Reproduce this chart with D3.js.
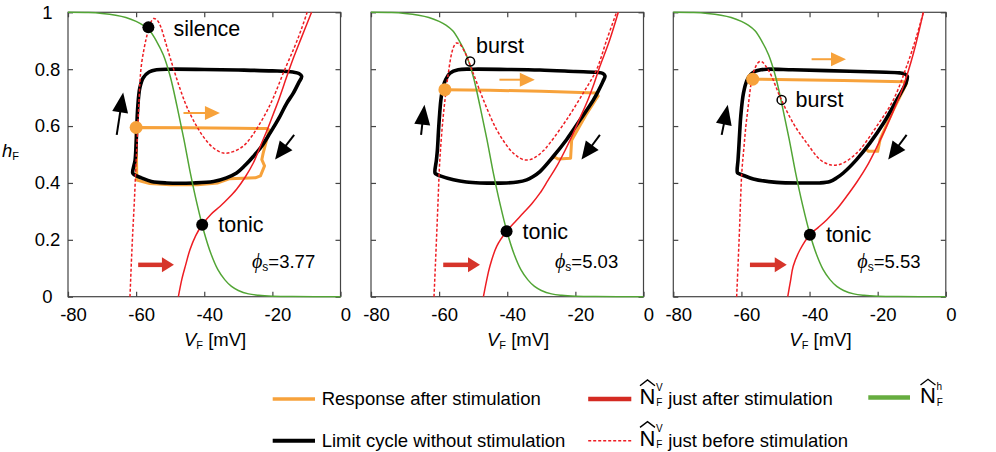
<!DOCTYPE html>
<html><head><meta charset="utf-8">
<script src="https://cdn.jsdelivr.net/npm/d3@7"></script>
<style>
body{margin:0;background:#fff}
svg text{font-family:"Liberation Sans",Arial,sans-serif;fill:#000}
</style>
</head><body>
<svg id="c" width="996" height="452"></svg>
<script>
// ---------------- data ----------------
const xTicks = [-80, -60, -40, -20, 0];
const yTicks = [0, 0.2, 0.4, 0.6, 0.8, 1];
const yTickLabels = ["0", "0.2", "0.4", "0.6", "0.8", "1"];
const phiValues = ["3.77", "5.03", "5.53"];

// N_F^h nullcline (same in all panels)
const greenNullcline = [[-80,1.0],[-74,0.999],[-70,0.996],[-66,0.99],[-63,0.982],[-60,0.968],[-58,0.955],[-56,0.935],[-54,0.898],[-52,0.85],[-50,0.775],[-48,0.67],[-46,0.555],[-44,0.43],[-42,0.32],[-40,0.225],[-38,0.15],[-36,0.095],[-34,0.06],[-32,0.036],[-30,0.022],[-27,0.01],[-24,0.005],[-20,0.002],[-14,0.0005],[0,0]];

// N_F^V just after stimulation
const redAfter1 = [[-47.6,0],[-46.6,0.06],[-45.5,0.11],[-44.2,0.165],[-42.5,0.215],[-40.6,0.253],[-38,0.29],[-35.4,0.317],[-33,0.345],[-30.5,0.378],[-28,0.42],[-25.6,0.47],[-23.5,0.53],[-21.5,0.587],[-19.8,0.64],[-18.2,0.69],[-15.6,0.78],[-13.8,0.84],[-11.5,0.91],[-8.5,1.0]];
const redAfter2 = [[-47.0,0],[-46.1,0.055],[-45.1,0.107],[-43.1,0.177],[-40.2,0.23],[-37.8,0.262],[-35.3,0.294],[-32.8,0.327],[-30.4,0.364],[-28,0.41],[-25.5,0.458],[-23,0.515],[-20.6,0.575],[-18.6,0.63],[-16.7,0.681],[-14.5,0.75],[-12.8,0.81],[-10,0.9],[-7.4,1.0]];
const redAfter3 = [[-46.4,0],[-45.6,0.055],[-44.8,0.107],[-42.8,0.165],[-39.9,0.218],[-37.5,0.243],[-35.0,0.27],[-32,0.308],[-29.1,0.353],[-26,0.405],[-23.2,0.458],[-20.3,0.525],[-17.4,0.599],[-14.8,0.67],[-12.5,0.739],[-9.5,0.856],[-6.6,1.0]];

// N_F^V just before stimulation
const redBefore1 = [[-61.8,0],[-61.4,0.12],[-61.0,0.224],[-60.5,0.34],[-60.1,0.45],[-59.7,0.55],[-59.3,0.65],[-58.9,0.751],[-58.5,0.81],[-57.7,0.87],[-56.9,0.915],[-56.0,0.955],[-54.9,0.978],[-53.8,0.972],[-52.8,0.95],[-51.5,0.9],[-50,0.84],[-47.5,0.745],[-45.2,0.67],[-42.5,0.605],[-40.3,0.563],[-37.5,0.525],[-34.4,0.505],[-31.5,0.51],[-28.5,0.53],[-26,0.565],[-23.6,0.61],[-21.5,0.655],[-19.7,0.70],[-16.5,0.795],[-13.6,0.875],[-11.5,0.94],[-9.8,1.0]];
const redBefore2 = [[-61.5,0],[-61.1,0.11],[-60.7,0.224],[-60.3,0.34],[-59.9,0.458],[-59.4,0.55],[-58.8,0.634],[-58.1,0.71],[-57.3,0.786],[-56.3,0.857],[-55.6,0.882],[-54.9,0.892],[-54.1,0.889],[-53.4,0.88],[-51.9,0.845],[-50,0.786],[-47.0,0.692],[-43.1,0.587],[-39.2,0.517],[-37.2,0.495],[-35.3,0.482],[-33.3,0.482],[-31.4,0.493],[-29.5,0.512],[-27.5,0.54],[-22.6,0.622],[-17.7,0.716],[-13.8,0.798],[-10.8,0.903],[-7.9,1.0]];
const redBefore3 = [[-61.4,0],[-61.0,0.11],[-60.6,0.224],[-59.9,0.435],[-59.3,0.52],[-58.7,0.599],[-58.0,0.67],[-57.3,0.739],[-56.7,0.78],[-56.0,0.804],[-55.2,0.822],[-54.5,0.827],[-53.8,0.825],[-53.1,0.815],[-52.1,0.797],[-51.1,0.774],[-48.7,0.704],[-44.8,0.61],[-40.8,0.54],[-36.9,0.482],[-34.0,0.464],[-32,0.463],[-30.1,0.47],[-27.6,0.49],[-25.2,0.517],[-20.3,0.599],[-15.4,0.692],[-11.5,0.81],[-8.6,0.915],[-6.6,1.0]];

// limit cycle without stimulation (closed)
const limitCycle1 = [[-61.0,0.435],[-60.3,0.48],[-60.0,0.54],[-59.8,0.6],[-59.5,0.67],[-58.9,0.735],[-57.9,0.77],[-56.2,0.79],[-54,0.798],[-50,0.80],[-40,0.799],[-30,0.797],[-20,0.794],[-14,0.79],[-12.2,0.785],[-11.4,0.775],[-12.3,0.752],[-13.9,0.715],[-15.8,0.68],[-18.2,0.625],[-20.7,0.575],[-23.2,0.528],[-25.6,0.493],[-28,0.462],[-30.5,0.435],[-33.5,0.418],[-37.3,0.405],[-43.2,0.40],[-51,0.40],[-55.5,0.405],[-58.5,0.418],[-60.4,0.428]];
const limitCycle2 = [[-61.2,0.435],[-60.8,0.48],[-60.5,0.517],[-60.2,0.58],[-59.9,0.634],[-59.5,0.69],[-58.9,0.735],[-58.0,0.765],[-56.8,0.786],[-54.4,0.798],[-50,0.80],[-40,0.799],[-30.4,0.797],[-20,0.792],[-13.8,0.789],[-11.9,0.785],[-11.3,0.776],[-11.9,0.757],[-13.2,0.725],[-14.7,0.692],[-18.6,0.622],[-22.6,0.552],[-26.5,0.493],[-30.4,0.44],[-32.5,0.422],[-34.3,0.411],[-37,0.403],[-40.2,0.40],[-48.0,0.40],[-52,0.403],[-55.8,0.411],[-59.7,0.425],[-60.7,0.43]];
const limitCycle3 = [[-61.2,0.437],[-61.0,0.48],[-60.8,0.517],[-60.5,0.58],[-60.2,0.634],[-59.4,0.716],[-58.3,0.763],[-57.2,0.782],[-56.0,0.792],[-54.3,0.798],[-52.6,0.80],[-45,0.798],[-35.0,0.795],[-20,0.79],[-13.5,0.787],[-12.0,0.783],[-11.3,0.775],[-11.7,0.751],[-12.8,0.725],[-14.4,0.692],[-18.3,0.61],[-22.3,0.54],[-26.2,0.482],[-30.1,0.435],[-32,0.418],[-34.0,0.405],[-37,0.40],[-40.8,0.40],[-49.7,0.402],[-56.5,0.414],[-59.9,0.429],[-60.8,0.433]];

// response after stimulation
const response1 = [[-60.0,0.595],[-45,0.594],[-30,0.592],[-21.7,0.591],[-20.9,0.586],[-21.6,0.555],[-22.7,0.505],[-23.1,0.482],[-22.3,0.46],[-23.5,0.425],[-25,0.418],[-32.5,0.415],[-36,0.40],[-42,0.394],[-50,0.394],[-56,0.398],[-59.8,0.41],[-59.9,0.5],[-60.0,0.595]];
const response2 = [[-58.3,0.728],[-45,0.726],[-30,0.722],[-13.8,0.716],[-13.3,0.706],[-14.2,0.69],[-17,0.637],[-21.1,0.55],[-21.4,0.487],[-25.0,0.484],[-26.5,0.493]];
const response3 = [[-56.7,0.765],[-45,0.763],[-30,0.76],[-12.4,0.756],[-11.5,0.75],[-15.4,0.657],[-19.3,0.552],[-20.0,0.511],[-22.7,0.511],[-23.5,0.52]];

// markers
const startPoints = [[-60.0,0.595],[-58.3,0.728],[-56.7,0.765]];
const tonicPoints = [[-40.6,0.253],[-40.2,0.23],[-39.9,0.218]];
const silencePoint = [-56.4,0.947];
const burstPoints = [null,[-50.9,0.827],[-48.2,0.692]];

// arrows: [tail, tip]
const orangeArrows = [[[-46.1,0.646],[-35.4,0.646]],[[-42.3,0.763],[-31.9,0.763]],[[-39.4,0.835],[-29.3,0.835]]];
const blackUpArrows = [[[-65.7,0.569],[-63.8,0.718]],[[-65.3,0.569],[-64.3,0.675]],[[-65.8,0.569],[-64.0,0.675]]];
const blackDownArrows = [[[-13.6,0.569],[-19.2,0.482]],[[-12.8,0.569],[-18.2,0.482]],[[-11.5,0.569],[-16.9,0.482]]];
const redArrows = [[[-59.4,0.112],[-48.9,0.112]],[[-58.8,0.112],[-48.0,0.112]],[[-57.5,0.112],[-46.7,0.112]]];

const legendLabels = ["Response after stimulation", "Limit cycle without stimulation", "just after stimulation", "just before stimulation"];

// ---------------- layout ----------------
const C = {green:"#52a535", red:"#ee1d23", orange:"#f7a23b", darkRed:"#d6342a", frame:"#444"};
const svg = d3.select("#c");
const panelLeft = [68, 371, 673.3], pw = 272.5, pTop = 12.3, pBot = 296.7;
const redAfter = [redAfter1, redAfter2, redAfter3];
const redBefore = [redBefore1, redBefore2, redBefore3];
const cycles = [limitCycle1, limitCycle2, limitCycle3];
const responses = [response1, response2, response3];

function arrow(g, x, y, a, color, shaftW, L, Wd) {
  const p0 = [x(a[0][0]), y(a[0][1])], p1 = [x(a[1][0]), y(a[1][1])];
  const dx = p1[0]-p0[0], dy = p1[1]-p0[1], len = Math.hypot(dx,dy);
  const ux = dx/len, uy = dy/len, nx = -uy, ny = ux;
  const bx = p1[0]-ux*L, by = p1[1]-uy*L;
  g.append("line").attr("x1",p0[0]).attr("y1",p0[1]).attr("x2",bx+ux).attr("y2",by+uy)
    .attr("stroke",color).attr("stroke-width",shaftW);
  g.append("path").attr("d",`M${p1[0]},${p1[1]}L${bx+nx*Wd},${by+ny*Wd}L${bx-nx*Wd},${by-ny*Wd}Z`).attr("fill",color);
}

for (let i = 0; i < 3; i++) {
  const L = panelLeft[i];
  const x = d3.scaleLinear().domain([-80,0]).range([L, L+pw]);
  const y = d3.scaleLinear().domain([0,1]).range([pBot, pTop]);
  const g = svg.append("g");

  g.append("rect").attr("x",L).attr("y",pTop).attr("width",pw).attr("height",pBot-pTop)
    .attr("fill","none").attr("stroke",C.frame).attr("stroke-width",1.2);

  const styleAx = s => { s.select(".domain").remove(); s.selectAll(".tick line").attr("stroke",C.frame).attr("stroke-width",1.2);
    s.selectAll("text").attr("font-size",18.5).attr("fill","#000").attr("font-family","Liberation Sans, Arial, sans-serif"); };
  g.append("g").attr("transform",`translate(0,${pBot})`)
    .call(d3.axisBottom(x).tickValues(xTicks).tickSize(-5).tickPadding(11).tickFormat(d=>String(d))).call(styleAx)
    .selectAll("text").attr("dx",5);
  g.append("g").attr("transform",`translate(0,${pTop})`)
    .call(d3.axisTop(x).tickValues(xTicks).tickSize(-5).tickFormat("")).call(styleAx);
  const ly = g.append("g").attr("transform",`translate(${L},0)`)
    .call(d3.axisLeft(y).tickValues(yTicks).tickSize(-5).tickPadding(8).tickFormat((d,j)=> i===0 ? yTickLabels[j] : "")).call(styleAx);
  ly.selectAll("text").attr("text-anchor","middle").attr("x",-(L-47.5));
  g.append("g").attr("transform",`translate(${L+pw},0)`)
    .call(d3.axisRight(y).tickValues(yTicks).tickSize(-5).tickFormat("")).call(styleAx);

  const clipId = "clip"+i;
  svg.append("clipPath").attr("id",clipId).append("rect")
    .attr("x",L-1).attr("y",pTop-1.5).attr("width",pw+2).attr("height",pBot-pTop+2.5);
  const pg = g.append("g").attr("clip-path",`url(#${clipId})`);

  const lineC = d3.line().x(d=>x(d[0])).y(d=>y(d[1])).curve(d3.curveCatmullRom.alpha(0.5));
  const lineL = d3.line().x(d=>x(d[0])).y(d=>y(d[1]));
  const lineClosed = d3.line().x(d=>x(d[0])).y(d=>y(d[1])).curve(d3.curveCatmullRomClosed.alpha(0.5));

  pg.append("path").attr("d",lineL(responses[i])).attr("fill","none").attr("stroke",C.orange)
    .attr("stroke-width",3).attr("stroke-linejoin","round");
  pg.append("path").attr("d",lineClosed(cycles[i])).attr("fill","none").attr("stroke","#000").attr("stroke-width",3.6);
  pg.append("path").attr("d",lineC(greenNullcline)).attr("fill","none").attr("stroke",C.green).attr("stroke-width",1.5);
  pg.append("path").attr("d",lineC(redAfter[i])).attr("fill","none").attr("stroke",C.red).attr("stroke-width",1.5);
  pg.append("path").attr("d",lineC(redBefore[i])).attr("fill","none").attr("stroke",C.red).attr("stroke-width",1.5)
    .attr("stroke-dasharray","3,2");

  // arrows
  arrow(g, x, y, orangeArrows[i], C.orange, 2, 15, 7);
  arrow(g, x, y, blackUpArrows[i], "#000", 2, 20, 8);
  arrow(g, x, y, blackDownArrows[i], "#000", 2, 18, 8);
  arrow(g, x, y, redArrows[i], C.darkRed, 4.5, 12, 7.5);

  // points
  g.append("circle").attr("cx",x(startPoints[i][0])).attr("cy",y(startPoints[i][1])).attr("r",6.5).attr("fill",C.orange);
  g.append("circle").attr("cx",x(tonicPoints[i][0])).attr("cy",y(tonicPoints[i][1])).attr("r",6).attr("fill","#000");
  g.append("text").attr("x",x(tonicPoints[i][0])+16).attr("y",y(tonicPoints[i][1])+7.5).attr("font-size",21.5).text("tonic");
  if (i === 0) {
    g.append("circle").attr("cx",x(silencePoint[0])).attr("cy",y(silencePoint[1])).attr("r",6).attr("fill","#000");
    g.append("text").attr("x",x(silencePoint[0])+25).attr("y",y(silencePoint[1])+9).attr("font-size",21.5).text("silence");
  } else {
    const b = burstPoints[i];
    g.append("circle").attr("cx",x(b[0])).attr("cy",y(b[1])).attr("r",4.5).attr("fill","none").attr("stroke","#000").attr("stroke-width",1.5);
    const t = g.append("text").attr("font-size",21.5).text("burst");
    if (i === 1) t.attr("x",x(b[0])+6).attr("y",y(b[1])-9);
    else t.attr("x",x(b[0])+14).attr("y",y(b[1])+7);
  }
  // phi label
  const pt = g.append("text").attr("x",L+184).attr("y",268).attr("font-size",18.5);
  pt.append("tspan").attr("font-style","italic").attr("font-family","Liberation Serif, serif").attr("font-size",20).text("ϕ");
  pt.append("tspan").attr("font-size",12).attr("dy",3).text("s");
  pt.append("tspan").attr("dy",-3).text("="+phiValues[i]);

  // x title
  const xt = g.append("text").attr("x",L+116).attr("y",345.5).attr("font-size",18.5);
  xt.append("tspan").attr("font-style","italic").text("V");
  xt.append("tspan").attr("font-size",11).attr("dy",3).text("F");
  xt.append("tspan").attr("dy",-3).text(" [mV]");
}

// y title
const yt = svg.append("text").attr("x",2).attr("y",157).attr("font-size",18.5);
yt.append("tspan").attr("font-style","italic").text("h");
yt.append("tspan").attr("font-size",11).attr("dy",3).text("F");

// ---------------- legend ----------------
const lg = svg.append("g");
const rowY = [399, 440.7];
const rowBase = [405, 446.7];
lg.append("line").attr("x1",272.7).attr("x2",315).attr("y1",rowY[0]).attr("y2",rowY[0]).attr("stroke",C.orange).attr("stroke-width",3.3);
lg.append("line").attr("x1",272.7).attr("x2",315).attr("y1",rowY[1]).attr("y2",rowY[1]).attr("stroke","#000").attr("stroke-width",4);
lg.append("text").attr("x",321.7).attr("y",rowBase[0]).attr("font-size",18.5).text(legendLabels[0]);
lg.append("text").attr("x",321.7).attr("y",rowBase[1]).attr("font-size",18.5).text(legendLabels[1]);

lg.append("line").attr("x1",588.2).attr("x2",631.3).attr("y1",rowY[0]).attr("y2",rowY[0]).attr("stroke","#d42a22").attr("stroke-width",4.5);
lg.append("line").attr("x1",588.2).attr("x2",631.3).attr("y1",rowY[1]).attr("y2",rowY[1]).attr("stroke",C.red).attr("stroke-width",1.5).attr("stroke-dasharray","3,2");
lg.append("line").attr("x1",868.3).attr("x2",910).attr("y1",397.5).attr("y2",397.5).attr("stroke","#66ad3f").attr("stroke-width",4.5);

function nHat(x0, base, sup, sub) {
  lg.append("text").attr("x",x0).attr("y",base).attr("font-size",22).text("N");
  lg.append("path").attr("d",`M${x0+0.5},${base-18.3}L${x0+8},${base-24}L${x0+15.5},${base-18.3}`)
    .attr("fill","none").attr("stroke","#000").attr("stroke-width",1.4);
  lg.append("text").attr("x",x0+16.5).attr("y",base-13.3).attr("font-size",10).text(sup);
  lg.append("text").attr("x",x0+16.8).attr("y",base+2.4).attr("font-size",10).text(sub);
}
nHat(639.5, 404, "V", "F");
lg.append("text").attr("x",668.2).attr("y",rowBase[0]).attr("font-size",18.5).text(legendLabels[2]);
nHat(639.5, 445.7, "V", "F");
lg.append("text").attr("x",668.2).attr("y",rowBase[1]).attr("font-size",18.5).text(legendLabels[3]);
nHat(920, 403.3, "h", "F");
</script>
</body></html>
